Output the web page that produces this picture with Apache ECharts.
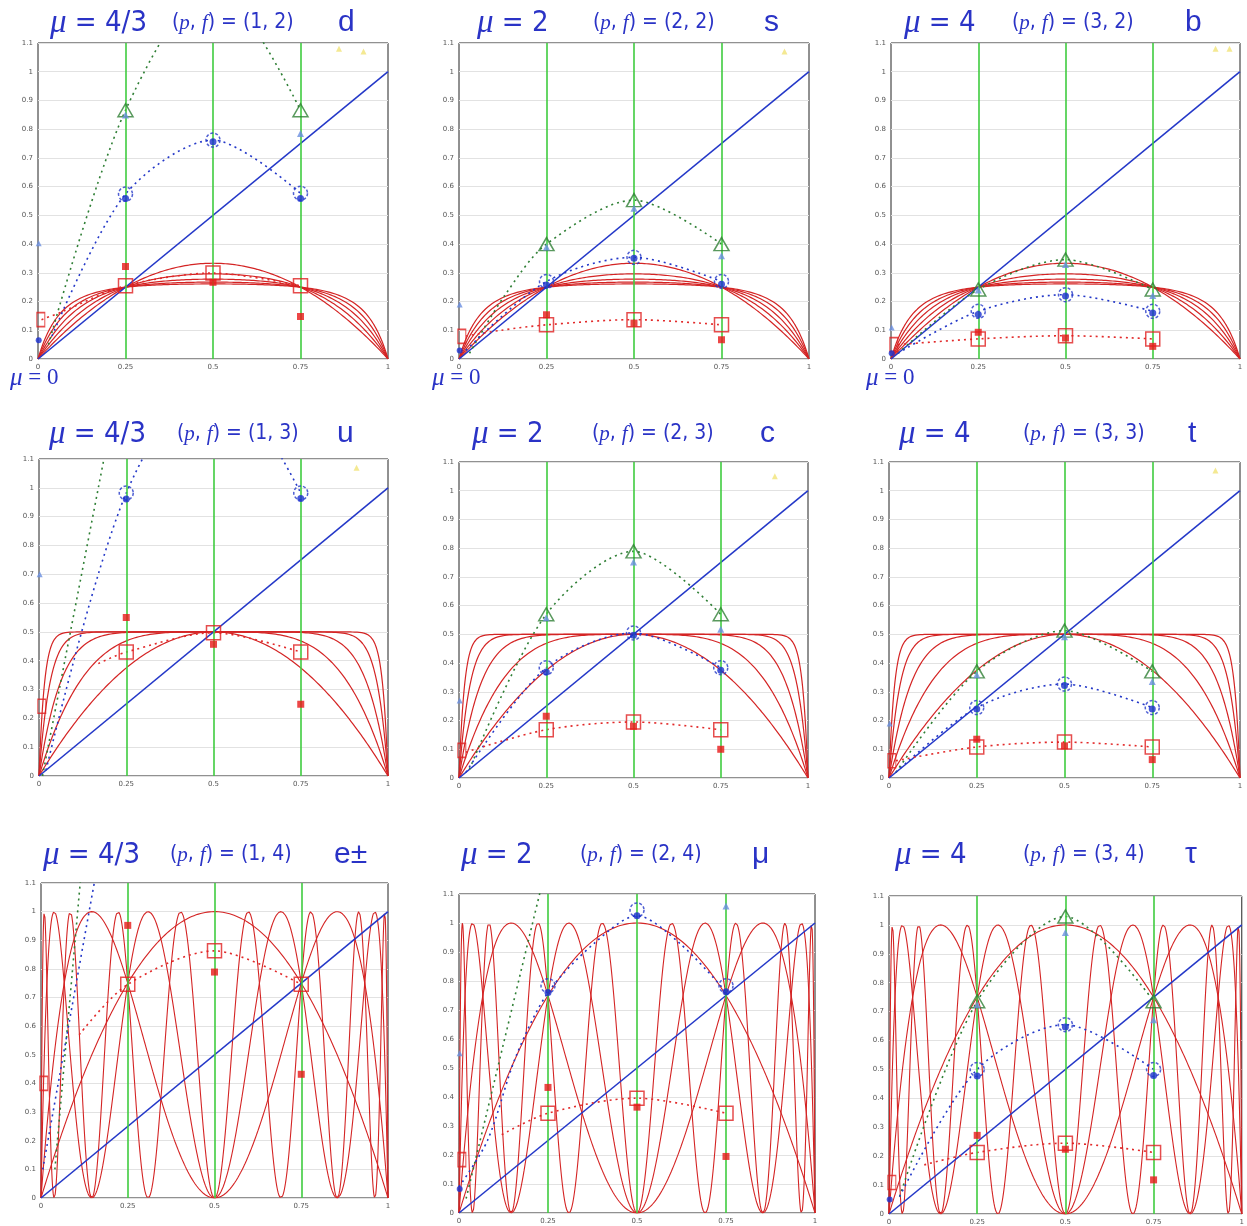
<!DOCTYPE html>
<html>
<head>
<meta charset="utf-8">
<script src="https://cdn.jsdelivr.net/npm/echarts@6/dist/echarts.min.js"></script>
<style>
  html, body { margin: 0; padding: 0; background: #ffffff; }
  #chart { width: 1247px; height: 1226px; }
</style>
</head>
<body>
<div id="chart"></div>
<script>
// Logistic-map iterates y = f^n(x), f(x) = r x (1 - x); one rate per row of panels
const rowRates = [4 / 3, 2, 4];
const rowIterates = [5, 5, 4];

// Sample abscissae of the markers and of the green guide lines
const guideX = [0.25, 0.5, 0.75];

// Panel headings (row-major order)
const muText = ['4/3', '2', '4', '4/3', '2', '4', '4/3', '2', '4'];
const pfText = ['(1, 2)', '(2, 2)', '(3, 2)', '(1, 3)', '(2, 3)', '(3, 3)', '(1, 4)', '(2, 4)', '(3, 4)'];
const tagText = ['d', 's', 'b', 'u', 'c', 't', 'e±', 'μ', 'τ'];

// Marker values at x = 0.25, 0.5, 0.75 (null = above the plotted range)
const greenTri = [
  [0.866, null, 0.866], [0.40, 0.553, 0.40], [0.242, 0.346, 0.242],
  [null, null, null], [0.57, 0.789, 0.57], [0.371, 0.513, 0.371],
  [null, null, null], [null, null, null], [0.736, 1.029, 0.736]
];
const lightTri = [
  [0.849, null, 0.785], [0.39, 0.525, 0.359], [0.24, 0.329, 0.221],
  [null, null, null], [0.558, 0.752, 0.518], [0.359, 0.492, 0.336],
  [null, null, null], [null, null, 1.059], [0.724, 0.974, 0.672]
];
const blueRing = [
  [0.574, 0.762, 0.577], [0.27, 0.354, 0.27], [0.166, 0.224, 0.166],
  [0.982, null, 0.982], [0.384, 0.505, 0.384], [0.245, 0.327, 0.245],
  [null, null, null], [0.784, 1.045, 0.784], [0.5, 0.655, 0.5]
];
const blueDot = [
  [0.559, 0.756, 0.559], [0.258, 0.351, 0.26], [0.155, 0.219, 0.16],
  [0.961, null, 0.963], [0.369, 0.497, 0.375], [0.24, 0.322, 0.24],
  [null, null, null], [0.76, 1.025, 0.763], [0.477, 0.647, 0.479]
];
const redBox = [
  [0.255, 0.299, 0.255], [0.119, 0.137, 0.119], [0.07, 0.081, 0.07],
  [0.43, 0.497, 0.43], [0.168, 0.195, 0.168], [0.108, 0.125, 0.108],
  [0.746, 0.863, 0.746], [0.344, 0.396, 0.344], [0.213, 0.245, 0.213]
];
const redDot = [
  [0.322, 0.267, 0.148], [0.154, 0.125, 0.067], [0.093, 0.073, 0.044],
  [0.55, 0.457, 0.249], [0.215, 0.18, 0.1], [0.135, 0.112, 0.064],
  [0.952, 0.789, 0.432], [0.433, 0.365, 0.195], [0.272, 0.224, 0.118]
];

// Values marked on the left edge (x = 0)
const edgeBox = [0.137, 0.079, 0.05, 0.242, 0.096, 0.06, 0.40, 0.184, 0.109];
const edgeTri = [0.403, 0.19, 0.11, 0.70, 0.27, 0.19, null, 0.551, null];
const edgeDot = [0.065, 0.03, 0.02, null, null, null, null, 0.083, 0.05];

// Dotted traces [x, y]
const greenPath = [
  [[0.03, 0.05], [0.25, 0.866], [0.5, 1.30], [0.75, 0.866]],
  [[0.03, 0.02], [0.13, 0.22], [0.25, 0.40], [0.5, 0.553], [0.75, 0.40]],
  [[0.02, 0.02], [0.25, 0.242], [0.5, 0.346], [0.75, 0.242]],
  [[0.01, 0.0], [0.25, 1.5]],
  [[0.03, 0.03], [0.25, 0.57], [0.5, 0.789], [0.75, 0.57]],
  [[0.02, 0.02], [0.25, 0.371], [0.5, 0.513], [0.75, 0.371]],
  [[0.04, 0.1], [0.25, 2.98]],
  [[0.02, 0.05], [0.25, 1.22]],
  [[0.03, 0.06], [0.25, 0.736], [0.5, 1.029], [0.75, 0.736]]
];
const bluePath = [
  [[0.04, 0.08], [0.25, 0.574], [0.5, 0.762], [0.75, 0.577]],
  [[0.02, 0.03], [0.25, 0.27], [0.5, 0.354], [0.75, 0.27]],
  [[0.02, 0.02], [0.25, 0.166], [0.5, 0.224], [0.75, 0.166]],
  [[0.02, 0.02], [0.25, 0.982], [0.5, 1.4], [0.75, 0.982]],
  [[0.02, 0.02], [0.25, 0.384], [0.5, 0.505], [0.75, 0.384]],
  [[0.02, 0.02], [0.25, 0.245], [0.5, 0.327], [0.75, 0.245]],
  [[0.005, 0.1], [0.25, 1.75]],
  [[0, 0.09], [0.08, 0.25], [0.16, 0.54], [0.25, 0.76], [0.38, 0.93], [0.5, 1.025], [0.62, 0.93], [0.75, 0.763]],
  [[0.03, 0.06], [0.25, 0.5], [0.5, 0.655], [0.75, 0.5]]
];
const redPath = [
  [[0.01, 0.137], [0.06, 0.16], [0.25, 0.255], [0.5, 0.299], [0.75, 0.255]],
  [[0.02, 0.08], [0.12, 0.1], [0.25, 0.119], [0.5, 0.137], [0.75, 0.119]],
  [[0.02, 0.05], [0.25, 0.07], [0.5, 0.081], [0.75, 0.07]],
  [[0.17, 0.39], [0.25, 0.43], [0.5, 0.497], [0.75, 0.43]],
  [[0.02, 0.09], [0.25, 0.168], [0.5, 0.195], [0.75, 0.168]],
  [[0.02, 0.06], [0.25, 0.108], [0.5, 0.125], [0.75, 0.108]],
  [[0.11, 0.57], [0.25, 0.746], [0.5, 0.863], [0.75, 0.746]],
  [[0.12, 0.27], [0.25, 0.344], [0.5, 0.396], [0.75, 0.344]],
  [[0.1, 0.17], [0.25, 0.213], [0.5, 0.245], [0.75, 0.213]]
];

// Faint yellow marks near the top edge
const yellowMarks = [
  [[0.86, 1.08], [0.93, 1.07]], [[0.93, 1.07]], [[0.93, 1.08], [0.97, 1.08]],
  [[0.91, 1.07]], [[0.905, 1.05]], [[0.93, 1.07]],
  [], [], []
];

// ---------------------------------------------------------------------------
const BLUE_TEXT = '#2a33c6';
const RED = '#d42424';
const GREEN = '#2f7f35';
const BLUE = '#2438c8';
const NARROW = "'Liberation Sans Narrow', 'DejaVu Sans Condensed', 'Liberation Sans', sans-serif";
const SERIF = "'Liberation Serif', 'DejaVu Serif', serif";

// Plot boxes: [left, top, width, height]
const boxes = [
  [38, 43, 350, 316], [459, 43, 350, 316], [891, 43, 349, 316],
  [39, 459, 349, 317], [459, 462, 349, 316], [889, 462, 351, 316],
  [41, 883, 347, 315], [459, 894, 356, 319], [889, 896, 357, 319]
];
// Heading anchors: [mu x, pf x, tag x, centre y]
const heads = [
  [50, 172, 338, 23], [477, 593, 764, 23], [904, 1012, 1185, 23],
  [49, 177, 337, 434], [472, 592, 760, 434], [899, 1023, 1188, 434],
  [43, 170, 334, 855], [461, 580, 752, 855], [895, 1023, 1185, 855]
];

function iterateCurve(r, n, samples) {
  const pts = [];
  for (let i = 0; i <= samples; i++) {
    const x = i / samples;
    let y = x;
    for (let k = 0; k < n; k++) y = r * y * (1 - y);
    pts.push([x, y]);
  }
  return pts;
}

function atGuides(vals) {
  return guideX.map((x, j) => [x, vals[j]]).filter(p => p[1] != null);
}

const grids = [], xAxes = [], yAxes = [], series = [], titles = [];

boxes.forEach((b, i) => {
  grids.push({ left: b[0], top: b[1], width: b[2], height: b[3], show: true,
    borderColor: '#222', borderWidth: 1, backgroundColor: '#fff' });
  xAxes.push({ gridIndex: i, type: 'value', min: 0, max: 1, interval: 0.25,
    axisLine: { show: false }, axisTick: { show: false },
    axisLabel: { fontSize: 7, color: '#555', margin: 5, fontFamily: 'DejaVu Sans' },
    splitLine: { show: false } });
  yAxes.push({ gridIndex: i, type: 'value', min: 0, max: 1.1, interval: 0.1,
    axisLine: { show: false }, axisTick: { show: false },
    axisLabel: { fontSize: 7, color: '#555', margin: 5, fontFamily: 'DejaVu Sans' },
    splitLine: { show: true, lineStyle: { color: '#e2e2e2', width: 1 } } });

  const row = Math.floor(i / 3);
  const base = { xAxisIndex: i, yAxisIndex: i, silent: true, animation: false };

  // iterate family
  for (let k = 1; k <= rowIterates[row]; k++) {
    series.push(Object.assign({ type: 'line', data: iterateCurve(rowRates[row], k, 1400),
      showSymbol: false, symbol: 'none', z: 2,
      lineStyle: { color: RED, width: row === 2 ? 1.1 : 1.2 } }, base));
  }

  // diagonal y = x with green guide lines
  series.push(Object.assign({ type: 'line', data: [[0, 0], [1, 1]], symbol: 'none', z: 3,
    lineStyle: { color: BLUE, width: 1.6 },
    markLine: { silent: true, symbol: 'none', animation: false, label: { show: false },
      lineStyle: { color: '#3fcc3f', type: 'solid', width: 1.6 },
      data: guideX.map(x => ({ xAxis: x })) } }, base));

  // dotted traces
  [[greenPath, GREEN], [bluePath, BLUE], [redPath, '#e22a2a']].forEach(([paths, col]) => {
    series.push(Object.assign({ type: 'line', data: paths[i], symbol: 'none', smooth: 0.3, z: 4,
      lineStyle: { color: col, width: 1.6, type: [2, 4] } }, base));
  });

  // markers
  const sc = (data, symbol, size, style, z) => series.push(Object.assign({
    type: 'scatter', data, symbol, symbolSize: size, itemStyle: style, z: z || 6 }, base));

  sc(atGuides(greenTri[i]), 'triangle', [15, 13],
    { color: 'rgba(0,0,0,0)', borderColor: GREEN, borderWidth: 1.5 });
  sc(atGuides(lightTri[i]), 'triangle', 7, { color: '#6a8fe0' }, 7);
  sc(atGuides(blueRing[i]), 'circle', 14,
    { color: 'rgba(0,0,0,0)', borderColor: BLUE, borderWidth: 1.5, borderType: [3, 2] });
  sc(atGuides(blueDot[i]), 'circle', 7, { color: '#1a2fd0' }, 7);
  sc(atGuides(redBox[i]), 'rect', 14,
    { color: 'rgba(0,0,0,0)', borderColor: '#e02020', borderWidth: 1.5 });
  sc(atGuides(redDot[i]), 'rect', 7, { color: '#e81818' }, 7);

  if (edgeBox[i] != null) sc([[0.008, edgeBox[i]]], 'rect', [8, 14],
    { color: 'rgba(0,0,0,0)', borderColor: '#e02020', borderWidth: 1.3 });
  if (edgeTri[i] != null) sc([[0.002, edgeTri[i]]], 'triangle', 6, { color: '#6a8fe0' });
  if (edgeDot[i] != null) sc([[0.002, edgeDot[i]]], 'circle', 6, { color: '#1a2fd0' });
  if (yellowMarks[i].length) sc(yellowMarks[i], 'triangle', 6, { color: 'rgba(235,215,60,0.7)' });

  // headings
  const h = heads[i];
  titles.push({ text: '{m|μ}{n| = ' + muText[i] + '}', left: h[0], top: h[3] - 17,
    padding: 0, textStyle: { fontWeight: 'normal', rich: {
      m: { fontFamily: SERIF, fontStyle: 'italic', fontWeight: 'normal', fontSize: 33, color: BLUE_TEXT, lineHeight: 34 },
      n: { fontFamily: NARROW, fontWeight: 'normal', fontSize: 29, color: BLUE_TEXT, lineHeight: 34 } } } });
  titles.push({ text: '{n|(}{i|p}{n|, }{i|f}{n|) = ' + pfText[i] + '}', left: h[1], top: h[3] - 12,
    padding: 0, textStyle: { fontWeight: 'normal', rich: {
      i: { fontFamily: SERIF, fontStyle: 'italic', fontWeight: 'normal', fontSize: 21, color: BLUE_TEXT, lineHeight: 24 },
      n: { fontFamily: NARROW, fontWeight: 'normal', fontSize: 21, color: BLUE_TEXT, lineHeight: 24 } } } });
  titles.push({ text: tagText[i], left: h[2], top: h[3] - 17, padding: 0,
    textStyle: { fontFamily: 'Liberation Sans', fontSize: 30, color: BLUE_TEXT, fontWeight: 'normal',
      lineHeight: 34 } });
});

// lower-left labels of the first row
[10, 432, 866].forEach(x => {
  titles.push({ text: '{m|μ}{n| = 0}', left: x, top: 365, padding: 0,
    textStyle: { fontWeight: 'normal', rich: {
      m: { fontFamily: SERIF, fontStyle: 'italic', fontWeight: 'normal', fontSize: 25, color: BLUE_TEXT, lineHeight: 26 },
      n: { fontFamily: SERIF, fontWeight: 'normal', fontSize: 23, color: BLUE_TEXT, lineHeight: 26 } } } });
});

const chart = echarts.init(document.getElementById('chart'), null, { renderer: 'canvas' });
chart.setOption({
  backgroundColor: '#ffffff',
  animation: false,
  title: titles,
  grid: grids,
  xAxis: xAxes,
  yAxis: yAxes,
  series: series
});
</script>
</body>
</html>
